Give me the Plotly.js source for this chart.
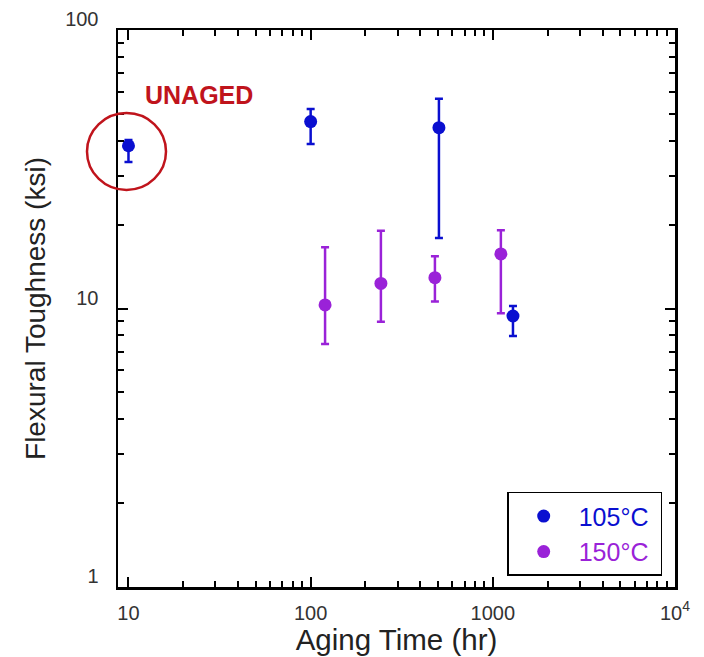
<!DOCTYPE html>
<html>
<head>
<meta charset="utf-8">
<script src="https://cdn.plot.ly/plotly-3.0.1.min.js"></script>
<style>html,body{margin:0;padding:0;background:#fff;}#chart{width:704px;height:657px;}</style>
</head>
<body>
<div id="chart"></div>
<script>
// Data
const time105 = [10, 100, 506, 1290];
const tough105 = [38.4, 46.9, 44.6, 9.4];
const up105 = [40.3, 52.0, 56.6, 10.2];
const lo105 = [33.6, 39.0, 17.9, 7.96];

const time150 = [120, 243, 481, 1107];
const tough150 = [10.3, 12.3, 12.9, 15.7];
const up150 = [16.6, 19.0, 15.4, 19.1];
const lo150 = [7.46, 8.97, 10.6, 9.62];

const xTickVals = [10, 100, 1000, 10000];
const xTickText = ["10", "100", "1000", "10<sup>4</sup>"];
const xMinorVals = [20,30,40,50,60,70,80,90,200,300,400,500,600,700,800,900,2000,3000,4000,5000,6000,7000,8000,9000];
const yTickVals = [1, 10, 100];
const yTickText = ["1", "10", "100"];
const yMinorVals = [2,3,4,5,6,7,8,9,20,30,40,50,60,70,80,90];

const blue = "#0a0fd0";
const purple = "#9a22d8";
const red = "#c0141c";
const FONT = "Liberation Sans, Arial, sans-serif";

function plus(v, u) { return u.map((x, i) => x - v[i]); }
function minus(v, l) { return l.map((x, i) => v[i] - x); }

const traces = [
  {
    x: time105, y: tough105, type: "scatter", mode: "markers",
    name: '<span style="color:' + blue + '">105°C</span>&nbsp;',
    marker: {color: blue, size: 13},
    error_y: {type: "data", symmetric: false, array: plus(tough105, up105), arrayminus: minus(tough105, lo105),
              color: blue, thickness: 2.5, width: 4}
  },
  {
    x: time150, y: tough150, type: "scatter", mode: "markers",
    name: '<span style="color:' + purple + '">150°C</span>&nbsp;',
    marker: {color: purple, size: 13},
    error_y: {type: "data", symmetric: false, array: plus(tough150, up150), arrayminus: minus(tough150, lo150),
              color: purple, thickness: 2.5, width: 4}
  },
  {x: [], y: [], xaxis: "x2", yaxis: "y", type: "scatter", mode: "markers", showlegend: false, hoverinfo: "skip"},
  {x: [], y: [], xaxis: "x", yaxis: "y2", type: "scatter", mode: "markers", showlegend: false, hoverinfo: "skip"}
];

const XR = [0.9425, 4];
const YR = [0, 2];

const base = {
  type: "log",
  showline: true, linecolor: "#000", linewidth: 2.5,
  mirror: "ticks",
  ticks: "inside", tickwidth: 2, tickcolor: "#000",
  showgrid: false, zeroline: false,
  tickfont: {family: FONT, size: 20, color: "#333"}
};

const layout = {
  width: 704, height: 657,
  margin: {l: 118, r: 29, t: 30, b: 70},
  paper_bgcolor: "#fff", plot_bgcolor: "#fff",
  font: {family: FONT},
  showlegend: true,
  xaxis: Object.assign({}, base, {
    range: XR, ticklen: 10,
    tickmode: "array", tickvals: xTickVals, ticktext: xTickText,
    ticklabelstandoff: 6,
    title: {text: "Aging Time (hr)", font: {size: 29.5, color: "#222"}, standoff: 0}
  }),
  xaxis2: Object.assign({}, base, {
    range: XR, ticklen: 6, overlaying: "x", anchor: "y", side: "bottom",
    tickmode: "array", tickvals: xMinorVals, showticklabels: false
  }),
  yaxis: Object.assign({}, base, {
    range: YR, ticklen: 10,
    tickmode: "array", tickvals: yTickVals, ticktext: yTickText,
    ticklabelshift: -11, ticklabelstandoff: 13,
    title: {text: "Flexural Toughness (ksi)", font: {size: 28, color: "#222"}, standoff: 12}
  }),
  yaxis2: Object.assign({}, base, {
    range: YR, ticklen: 6, overlaying: "y", anchor: "x", side: "left",
    tickmode: "array", tickvals: yMinorVals, showticklabels: false
  }),
  legend: {
    x: 0.977, xanchor: "right", y: 0.02, yanchor: "bottom",
    bordercolor: "#000", borderwidth: 1.5, bgcolor: "#fff",
    font: {size: 25, family: FONT}, itemwidth: 60, tracegroupgap: 0
  },
  shapes: [
    {type: "circle", xref: "paper", yref: "paper",
     x0: (87 - 118) / 557, x1: (166 - 118) / 557,
     y0: (587 - 190) / 557, y1: (587 - 113) / 557,
     line: {color: red, width: 2.5}}
  ],
  annotations: [
    {text: "<b>UNAGED</b>", xref: "paper", yref: "paper", x: (143 - 118) / 557, y: (587 - 95) / 557,
     xanchor: "left", yanchor: "middle", showarrow: false,
     font: {size: 25, color: red, family: FONT}}
  ]
};

Plotly.newPlot("chart", traces, layout, {displayModeBar: false, staticPlot: true});
</script>
</body>
</html>
